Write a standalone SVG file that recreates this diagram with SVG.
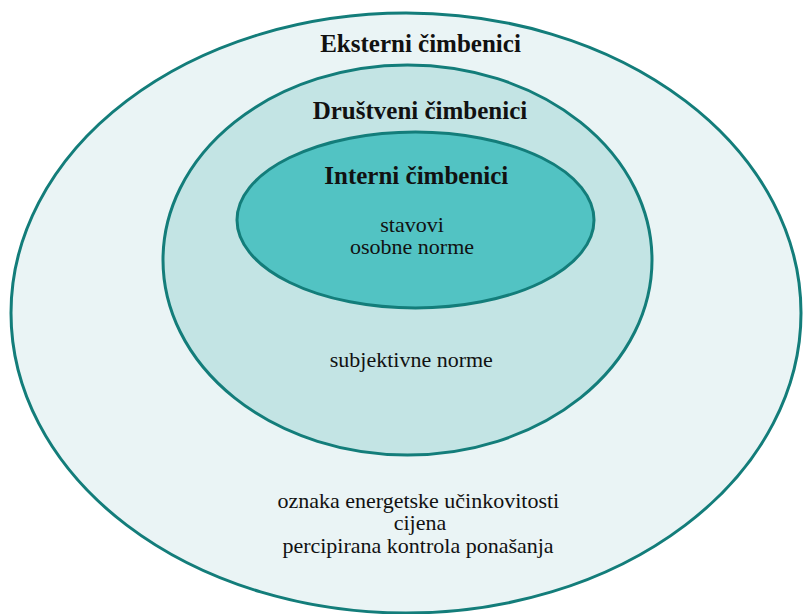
<svg xmlns="http://www.w3.org/2000/svg" width="803" height="614" viewBox="0 0 803 614">
<style>
.ring{stroke:#137d7a;stroke-width:3}
text{font-family:'Liberation Serif','Times New Roman',serif;fill:#111;text-anchor:middle}
.b{font-weight:bold;font-size:25px}
.r{font-size:22px}
</style>
<rect width="803" height="614" fill="#ffffff"/>
<g id="eksterni">
<ellipse class="ring" cx="406" cy="313" rx="395" ry="300" fill="#eaf4f5"/>
<text class="b" x="420.5" y="52">Eksterni čimbenici</text>
<text class="r" x="418.3" y="508">oznaka energetske učinkovitosti</text>
<text class="r" x="420" y="530">cijena</text>
<text class="r" x="418" y="552.5">percipirana kontrola ponašanja</text>
</g>
<g id="drustveni">
<ellipse class="ring" cx="407.5" cy="260" rx="244.5" ry="195" fill="#c3e4e4"/>
<text class="b" x="420" y="119">Društveni čimbenici</text>
<text class="r" x="411.3" y="367">subjektivne norme</text>
</g>
<g id="interni">
<ellipse class="ring" cx="415.5" cy="220" rx="178.5" ry="88" fill="#52c3c3"/>
<text class="b" x="416.3" y="184">Interni čimbenici</text>
<text class="r" x="412" y="232">stavovi</text>
<text class="r" x="412" y="254.3">osobne norme</text>
</g>
<g id="connectors"/>
</svg>
